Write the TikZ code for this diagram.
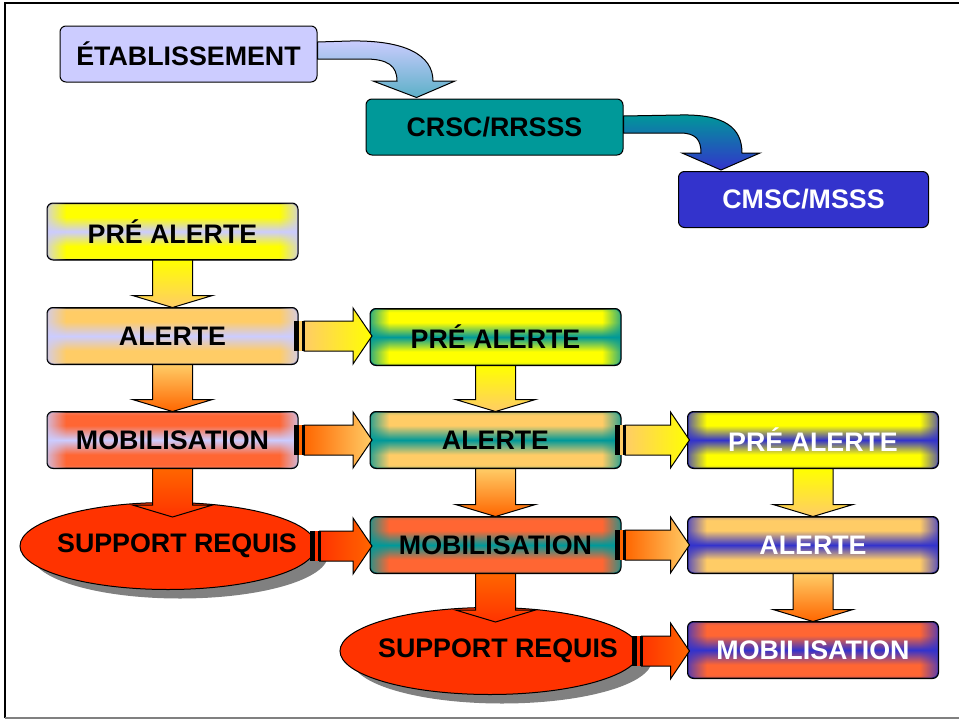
\documentclass[tikz,border=0pt]{standalone}
\usepackage{fontspec}
\setmainfont{Liberation Sans}
\usetikzlibrary{calc,shapes.geometric,shadows,fadings}
\definecolor{lav}{HTML}{CCCCFF}
\definecolor{tealc}{HTML}{009999}
\definecolor{bluec}{HTML}{3333CC}
\definecolor{yel}{HTML}{FFFF00}
\definecolor{lor}{HTML}{FFCC66}
\definecolor{mor}{HTML}{FF6633}
\definecolor{aor}{HTML}{FF6600}
\definecolor{supred}{HTML}{FF3300}
\newcommand\boxfont{\bfseries\fontsize{26.8}{30}\selectfont}
\tikzset{
  box/.style={rectangle, rounded corners=6pt, draw=black, line width=1pt,
    minimum width=250, minimum height=56, inner sep=0pt, font=\boxfont},
  topbox/.style={box, minimum width=257},
  ell/.style={ellipse, draw=black, line width=1pt, fill=supred,
    minimum width=296, minimum height=87, inner sep=0pt,
    drop shadow={shadow xshift=12pt, shadow yshift=-9pt, fill=black!50, opacity=1}},
  arr/.style={draw=black, line width=1pt}
}
\newcommand\gbox[6]{%
  \pgfdeclareverticalshading{sh#1}{100bp}{color(0bp)=(#4); color(25bp)=(#4!80!#5);
    color(28bp)=(#4); color(37bp)=(#4); color(50bp)=(#5); color(63bp)=(#4);
    color(72bp)=(#4); color(75bp)=(#4!80!#5); color(100bp)=(#4)}%
  \node[box, shading=sh#1, text=#6] (#1) at (#2) {#3};
  \begin{scope}
    \clip[rounded corners=6pt] (#1.south west) rectangle (#1.north east);
    \fill[#5, path fading=east, opacity=0.8] (#1.south west) rectangle ($(#1.north west)+(19,0)$);
    \fill[#5, path fading=west, opacity=0.8] ($(#1.south east)+(-19,0)$) rectangle (#1.north east);
  \end{scope}
  \draw[rounded corners=6pt, line width=1pt] (#1.south west) rectangle (#1.north east);
}
\newcommand\harrow[5]{%
  \coordinate (T) at ($(#1.east)+(#3,0)$);
  \coordinate (H) at ($(#2.west |- T)+(2,0)$);
  \shade[arr, left color=#4, right color=#5]
    ($(T)+(10,-15)$) -- ($(H)+(-19,-15)$) -- ($(H)+(-19,-28)$) -- (H) --
    ($(H)+(-19,28)$) -- ($(H)+(-19,15)$) -- ($(T)+(10,15)$) -- cycle;
  \fill[#4] ($(T)+(0,-15)$) rectangle ($(T)+(10,15)$);
  \fill[black] ($(T)+(0,-15)$) rectangle ($(T)+(5,15)$);
  \fill[black] ($(T)+(8,-15)$) rectangle ($(T)+(11,15)$);
}
\newcommand\varrow[5]{%
  \coordinate (S) at (#1.south);
  \coordinate (P) at ($(S |- #2.north)+(0,#3)$);
  \shade[arr, top color=#4, bottom color=#5]
    ($(S)+(-20,0)$) -- ($(P)+(-20,-12)$) -- ($(P)+(-40,-12)$) -- (P) --
    ($(P)+(40,-12)$) -- ($(P)+(20,-12)$) -- ($(S)+(20,0)$) -- cycle;
}
\begin{document}
\begin{tikzpicture}[x=1pt,y=-1pt]
\useasboundingbox (0,0) rectangle (959,720);
\fill[white] (0,0) rectangle (959,720);
% frame
\draw[line width=2pt, black] (5,718) -- (5,3) -- (959,3);
\draw[line width=2pt, black!50] (5,718) -- (959,718);

% top chain
\node[topbox, fill=lav] (etab) at (188.5,54) {ÉTABLISSEMENT};
\node[topbox, fill=tealc] (crsc) at (494.5,127) {CRSC/RRSSS};
\node[box, fill=bluec, text=white] (cmsc) at (803.5,199.5) {CMSC/MSSS};
\coordinate (t1) at ($(crsc.north west)+(51,-1)$);
\coordinate (t2) at ($(cmsc.north west)+(43,-1)$);
\shade[arr, top color=lav, bottom color=tealc!55!lav]
  ($(etab.east)+(0,-12)$) -- (350,41) .. controls (405,40) and (433,55) .. (433,81)
  -- (455,81) -- (t1) -- (373,81) -- (397,81)
  .. controls (397,66) and (388,59) .. (365,59) -- ($(etab.east)+(0,5)$) -- cycle;
\shade[arr, top color=tealc, bottom color=bluec]
  ($(crsc.east)+(0,-11)$) -- (680,115) .. controls (725,114) and (742,128) .. (742,153)
  -- (760,153) -- (t2) -- (682,153) -- (701,153)
  .. controls (701,140) and (696,133) .. (680,133) -- ($(crsc.east)+(0,6)$) -- cycle;

% left column
\gbox{a1}{172.5,231.5}{PRÉ ALERTE}{yel}{lav}{black}
\gbox{a2}{172.5,336}{ALERTE}{lor}{lav}{black}
\gbox{a3}{172.5,440}{MOBILISATION}{mor}{lav}{black}
\node[ell, label={[font=\boxfont, xshift=9pt]center:SUPPORT REQUIS}] (e1) at (168,546) {};

% middle column
\gbox{b1}{495.5,337}{PRÉ ALERTE}{yel}{tealc}{black}
\gbox{b2}{495.5,440}{ALERTE}{lor}{tealc}{black}
\gbox{b3}{495.5,545}{MOBILISATION}{mor}{tealc}{black}
\node[ell, minimum width=300, label={[font=\boxfont, xshift=8pt]center:SUPPORT REQUIS}] (e2) at (490,651) {};

% right column
\gbox{c1}{813,440}{PRÉ ALERTE}{yel}{bluec}{white}
\gbox{c2}{813,545}{ALERTE}{lor}{bluec}{white}
\gbox{c3}{813,650}{MOBILISATION}{mor}{bluec}{white}

% vertical arrows
\varrow{a1}{a2}{0}{yel}{lor}
\varrow{a2}{a3}{0}{lor}{aor}
\varrow{a3}{e1}{15}{aor}{supred}
\varrow{b1}{b2}{0}{yel}{lor}
\varrow{b2}{b3}{0}{lor}{aor}
\varrow{b3}{e2}{15}{aor}{supred}
\varrow{c1}{c2}{0}{yel}{lor}
\varrow{c2}{c3}{0}{lor}{aor}

% horizontal arrows
\harrow{a2}{b1}{-4}{lor}{yel}
\harrow{a3}{b2}{-4}{aor}{lor}
\harrow{e1}{b3}{-7}{supred}{aor}
\harrow{b2}{c1}{-6}{lor}{yel}
\harrow{b3}{c2}{-6}{aor}{lor}
\harrow{e2}{c3}{-9}{supred}{aor}
\end{tikzpicture}
\end{document}
